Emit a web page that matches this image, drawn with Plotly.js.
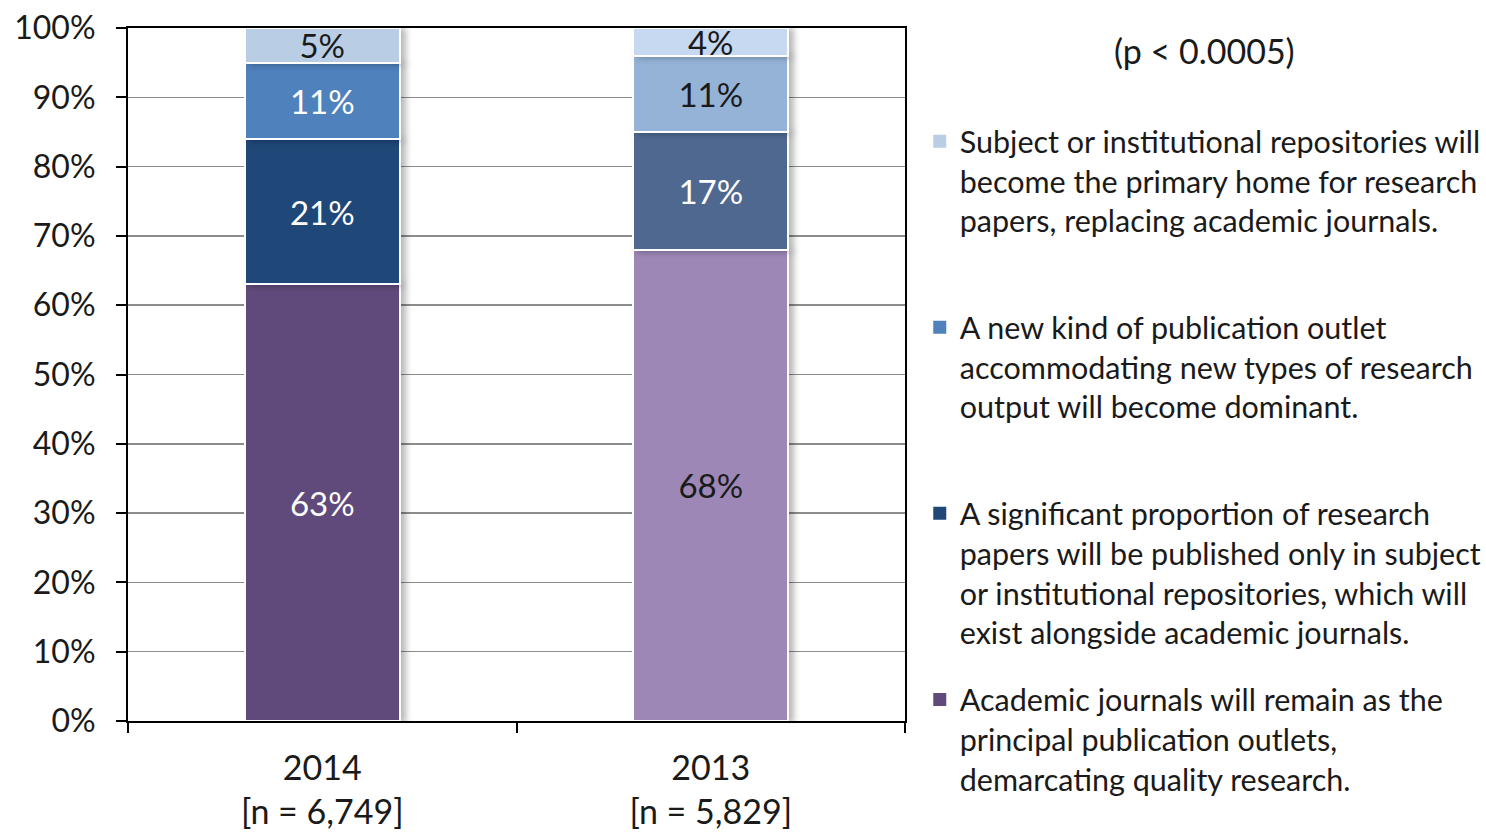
<!DOCTYPE html>
<html>
<head>
<meta charset="utf-8">
<script src="https://cdn.plot.ly/plotly-3.0.1.min.js"></script>
<style>
html, body { margin: 0; padding: 0; background: #fff; }
#chart { width: 1486px; height: 833px; }
.barlayer .point path { filter: drop-shadow(5px 1px 3px rgba(0,0,0,0.28)); }
</style>
</head>
<body>
<div id="chart"></div>
<script>
const categories = ["2014<br>[n = 6,749]", "2013<br>[n = 5,829]"];
const seriesNames = [
  "Academic journals will remain as the<br>principal publication outlets,<br>demarcating quality research.",
  "A significant proportion of research<br>papers will be published only in subject<br>or institutional repositories, which will<br>exist alongside academic journals.",
  "A new kind of publication outlet<br>accommodating new types of research<br>output will become dominant.<br>&nbsp;",
  "Subject or institutional repositories will<br>become the primary home for research<br>papers, replacing academic journals.<br>&nbsp;"
];
const journalsRemain = [63, 68];
const significantProportion = [21, 17];
const newKindOutlet = [11, 11];
const repositoriesPrimary = [5, 4];
const values = [journalsRemain, significantProportion, newKindOutlet, repositoriesPrimary];
const barColors = [
  ["#604A7B", "#9D87B6"],
  ["#1F4778", "#4F6890"],
  ["#4F81BD", "#95B3D7"],
  ["#B9CDE5", "#C6D9F1"]
];
const labelColors = [
  ["#ffffff", "#1a1a1a"],
  ["#ffffff", "#ffffff"],
  ["#ffffff", "#1a1a1a"],
  ["#1a1a1a", "#1a1a1a"]
];
const FONT = "Lato, 'Open Sans', sans-serif";

const traces = values.map((v, i) => ({
  type: "bar",
  name: seriesNames[i],
  x: categories,
  y: v,
  text: v.map(d => d + "%"),
  textposition: "inside",
  insidetextanchor: "middle",
  constraintext: "none",
  textfont: { family: FONT, size: 33, color: labelColors[i] },
  marker: { color: barColors[i], line: { color: "#ffffff", width: 2 } },
  legendgroup: "g" + i,
  legendrank: 10 - i,
  hoverinfo: "none"
}));

const layout = {
  width: 1486,
  height: 833,
  margin: { l: 128, r: 581, t: 28, b: 112, autoexpand: false },
  paper_bgcolor: "#ffffff",
  plot_bgcolor: "#ffffff",
  barmode: "stack",
  bargap: 0.6,
  showlegend: true,
  font: { family: FONT, size: 30, color: "#1a1a1a" },
  legend: {
    x: 1.019, xanchor: "left",
    y: 0.8747, yanchor: "top",
    traceorder: "grouped",
    tracegroupgap: 24.5,
    valign: "top",
    font: { family: FONT, size: 30.5, color: "#1a1a1a" },
    itemwidth: 30
  },
  xaxis: {
    type: "category",
    tickson: "boundaries",
    ticks: "outside",
    ticklen: 10,
    tickwidth: 2,
    tickcolor: "#000",
    showline: true,
    linecolor: "#000",
    linewidth: 2,
    mirror: true,
    showgrid: false,
    ticklabelstandoff: 16,
    tickfont: { family: FONT, size: 34, color: "#1a1a1a" }
  },
  yaxis: {
    range: [0, 100],
    tickmode: "linear",
    tick0: 0,
    dtick: 10,
    ticksuffix: "%",
    ticks: "outside",
    ticklen: 10,
    tickwidth: 2,
    tickcolor: "#000",
    showline: true,
    linecolor: "#000",
    linewidth: 2,
    mirror: true,
    showgrid: true,
    gridcolor: "#8c8c8c",
    gridwidth: 1.5,
    zeroline: false,
    ticklabelstandoff: 14,
    tickfont: { family: FONT, size: 32, color: "#1a1a1a" }
  },
  annotations: [{
    text: "(p < 0.0005)",
    xref: "paper", yref: "paper",
    x: 1.386, y: 1.0,
    xanchor: "center", yanchor: "top",
    showarrow: false,
    font: { family: FONT, size: 34, color: "#1a1a1a" }
  }]
};

Plotly.newPlot("chart", traces, layout, { displayModeBar: false, staticPlot: true }).then(gd => {
  gd.querySelectorAll(".legend .legendpoints path").forEach(p => {
    const t = p.getAttribute("transform") || "";
    p.setAttribute("transform", (t + " scale(1.3)").trim());
  });
});
</script>
</body>
</html>
